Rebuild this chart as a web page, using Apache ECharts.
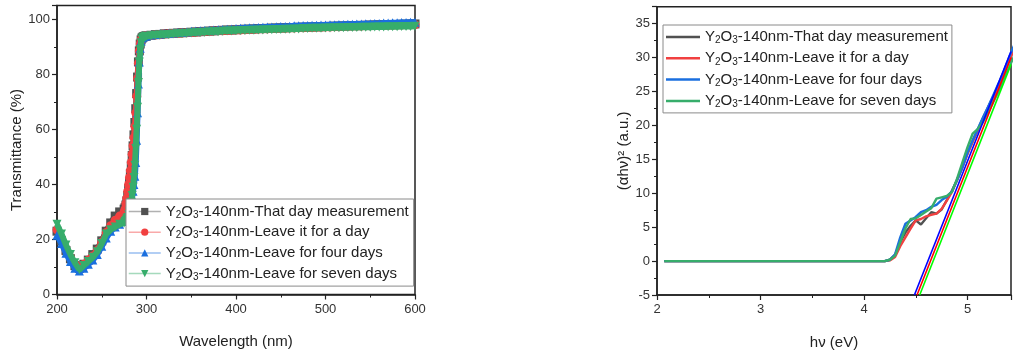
<!DOCTYPE html>
<html>
<head>
<meta charset="utf-8">
<script src="https://cdn.jsdelivr.net/npm/echarts@6/dist/echarts.min.js"></script>
<style>
html,body{margin:0;padding:0;background:#fff;}
#c{width:1014px;height:355px;}
</style>
</head>
<body>
<div id="c"></div>
<script>
// ---------- Left panel: transmittance ----------
const wl = [200,205,210,215,220,225,230,235,240,245,250,255,260,265,270,275,
  276,277,278,279,280,281,282,283,284,285,286,287,288,289,290,291,292,293,294,295,296,297,298,299,
  300,305,310,315,320,325,330,335,340,345,350,355,360,365,370,375,380,385,390,395,
  400,405,410,415,420,425,430,435,440,445,450,455,460,465,470,475,480,485,490,495,
  500,505,510,515,520,525,530,535,540,545,550,555,560,565,570,575,580,585,590,595,600];

const tGray = [23,19.5,16,13,10.5,9.5,11,12.5,14.5,16.5,19.5,23,26,28.5,30,31,
  31.5,32.5,34,36,38.5,41,44,47,50.5,54,58,62.5,67.5,73,79,84.5,88.5,91,92.5,93.2,93.5,93.7,93.8,93.9,
  93.9,94.2,94.4,94.5,94.7,94.8,94.9,95.0,95.1,95.2,
  95.3,95.4,95.5,95.6,95.7,95.8,95.9,96.0,96.1,96.1,
  96.2,96.3,96.4,96.4,96.5,96.6,96.6,96.7,96.8,96.8,
  96.9,96.9,97.0,97.0,97.1,97.1,97.2,97.2,97.3,97.3,
  97.4,97.4,97.5,97.5,97.6,97.6,97.7,97.7,97.8,97.8,
  97.9,97.9,98.0,98.0,98.0,98.1,98.1,98.2,98.2,98.3,98.3];

const tRed = [23.5,20,16.5,13.5,11,9.5,11,12.5,14,16,19,22.5,25,27,28.5,30,
  31,33,35,37.5,40,42.5,45,48,51,54,57,61,66,72,78.5,84,88.5,91,92.5,93.2,93.5,93.7,93.8,93.9,
  93.9,94.1,94.3,94.4,94.6,94.7,94.8,94.9,95.0,95.1,
  95.2,95.3,95.4,95.5,95.6,95.7,95.8,95.8,95.9,96.0,
  96.1,96.1,96.2,96.3,96.3,96.4,96.5,96.5,96.6,96.6,
  96.7,96.7,96.8,96.8,96.9,96.9,97.0,97.0,97.1,97.1,
  97.2,97.2,97.3,97.3,97.4,97.4,97.5,97.5,97.5,97.6,
  97.6,97.7,97.7,97.8,97.8,97.8,97.9,97.9,98.0,98.0,98.0];

const tBlue = [21.5,18.5,15,12,9.5,8.5,9.5,11,12.5,14.5,17.5,20.5,23,24.5,25.5,26.5,
  27,27.5,28,28.5,29.5,30.5,32,33.5,35.5,37.5,40,43,48,56,66,76.5,84.5,89.5,92,93.2,93.6,93.8,93.9,94.0,
  94.0,94.3,94.5,94.6,94.8,94.9,95.0,95.2,95.3,95.4,
  95.6,95.7,95.8,95.9,96.0,96.1,96.2,96.3,96.4,96.5,
  96.6,96.7,96.8,96.9,96.9,97.0,97.1,97.2,97.2,97.3,
  97.4,97.4,97.5,97.6,97.6,97.7,97.7,97.8,97.8,97.9,
  97.9,98.0,98.0,98.1,98.1,98.2,98.2,98.3,98.3,98.4,
  98.4,98.5,98.5,98.6,98.6,98.7,98.7,98.8,98.8,98.9,98.9];

const tGreen = [25.5,22,18,14.5,11.5,9,10.5,12,13.5,15.5,18.5,22,23.5,24.5,25.5,26,
  26.5,27,27.5,28,29,30,31.5,33.5,36,39,42.5,47,53,60,68,77,84.5,89,91.5,92.8,93.3,93.5,93.6,93.7,
  93.8,94.0,94.2,94.3,94.4,94.5,94.6,94.7,94.8,94.9,
  95.0,95.1,95.2,95.3,95.4,95.5,95.5,95.6,95.7,95.7,
  95.8,95.9,95.9,96.0,96.0,96.1,96.1,96.2,96.2,96.3,
  96.3,96.4,96.4,96.5,96.5,96.6,96.6,96.7,96.7,96.7,
  96.8,96.8,96.9,96.9,96.9,97.0,97.0,97.0,97.1,97.1,
  97.1,97.2,97.2,97.2,97.3,97.3,97.3,97.4,97.4,97.4,97.5];

// ---------- Right panel: Tauc plot ----------
const ev = [2.07,2.5,3.0,3.5,4.0,4.2,4.25,4.3,4.35,4.4,4.45,4.5,4.55,4.6,4.65,4.7,4.75,4.8,4.85,4.9,4.95,5.0,5.05,5.1,5.15,5.2,5.25,5.3,5.35,5.4,5.45,5.5];
const aGray  = [0,0,0,0,0,0,0.2,0.9,2.8,4.2,5.2,6.0,5.4,6.3,7.2,7.0,7.6,9.0,10.4,12.0,13.9,15.9,17.7,19.4,21.1,22.7,24.3,26.0,27.8,29.6,31.4,33.2];
const aRed   = [0,0,0,0,0,0,0.1,0.6,2.2,3.5,4.8,6.0,6.2,6.6,6.8,7.0,7.7,8.9,10.2,12.0,13.8,15.8,17.6,19.3,21.0,22.6,24.2,25.9,27.6,29.4,31.2,33.0];
const aBlue  = [0,0,0,0,0,0,0.2,1.0,3.5,5.5,6.0,6.5,7.2,7.5,8.0,8.3,9.0,9.5,10.3,12.0,13.8,16.0,17.8,19.5,21.2,22.8,24.5,26.2,28.0,30.0,31.8,33.6];
const aGreen = [0,0,0,0,0,0,0.2,0.8,2.8,4.8,6.2,6.3,6.8,7.3,7.8,9.2,9.4,9.6,10.2,12.2,14.5,16.8,18.8,19.5,20.5,22.0,23.5,25.0,26.8,28.5,30.2,32.0];

// linear fits: [x at y=-5, y=-5], [x end, y end]
const fitBlue  = [[4.487,-5],[5.42,30.9]];
const fitRed   = [[4.512,-5],[5.42,30.0]];
const fitGreen = [[4.538,-5],[5.42,29.0]];

const names = ['Y2O3-140nm-That day measurement','Y2O3-140nm-Leave it for a day','Y2O3-140nm-Leave for four days','Y2O3-140nm-Leave for seven days'];
const colors = ['#515151','#F14040','#1A6FDF','#37AD6B'];
const fitColors = ['#0000ff','#ff0000','#00ff00'];
const xTicksL = [200,300,400,500,600];
const yTicksL = [0,20,40,60,80,100];
const xTicksR = [2,3,4,5];
const yTicksR = [-5,0,5,10,15,20,25,30,35];

const FONT = '"Liberation Sans", Arial, sans-serif';
const pairs = (xs, ys) => xs.map((x, i) => [x, ys[i]]);
const richName = n => '{n|Y}{s|2}{n|O}{s|3}{n|' + n.slice(4) + '}';
const rich = {
  n: {fontSize: 15, lineHeight: 18, color: '#222', fontFamily: FONT},
  s: {fontSize: 10, lineHeight: 11, padding: [7,0,0,0], color: '#222', fontFamily: FONT}
};

function axisCommon(extra) {
  return Object.assign({
    type: 'value',
    axisLine: {show: true, onZero: false, lineStyle: {color: '#222', width: 1.5}},
    axisTick: {show: true, inside: false, length: 5, lineStyle: {color: '#222', width: 1.2}},
    minorTick: {show: true, splitNumber: 2, length: 3, lineStyle: {color: '#222', width: 1}},
    splitLine: {show: false},
    nameLocation: 'middle',
    nameTextStyle: {color: '#222', fontSize: 15, fontFamily: FONT}
  }, extra);
}
function onlyTicks(list) {
  return v => (list.indexOf(Math.round(v * 1000) / 1000) >= 0 ? String(v) : '');
}
function lbl(list, margin) {
  return {color: '#333', fontSize: 13, fontFamily: FONT, margin: margin, formatter: onlyTicks(list)};
}

const symbols = ['rect', 'circle', 'triangle', 'path://M0,0 L10,0 L5,9 Z'];

const chart = echarts.init(document.getElementById('c'), null, {renderer: 'canvas'});

const leftSeries = [tGray, tRed, tBlue, tGreen].map((arr, i) => ({
  name: names[i], type: 'line', xAxisIndex: 0, yAxisIndex: 0,
  data: pairs(wl, arr),
  symbol: symbols[i], symbolSize: 9, showSymbol: true,
  itemStyle: {color: colors[i]},
  lineStyle: {color: colors[i], width: 6, opacity: 1},
  z: 2 + i
}));
const rightSeries = [aGray, aRed, aBlue, aGreen].map((arr, i) => ({
  name: names[i] + ' ', type: 'line', xAxisIndex: 1, yAxisIndex: 1,
  data: pairs(ev, arr),
  symbol: 'none', smooth: false,
  itemStyle: {color: colors[i]},
  lineStyle: {color: colors[i], width: 2.4},
  z: 2 + i
}));
const fitSeries = [fitBlue, fitRed, fitGreen].map((d, i) => ({
  type: 'line', xAxisIndex: 1, yAxisIndex: 1, data: d,
  symbol: 'none', silent: true,
  lineStyle: {color: fitColors[i], width: 1.6}, z: 10
}));

chart.setOption({
  animation: false,
  backgroundColor: '#fff',
  grid: [
    {left: 57, top: 5.5, width: 358, height: 289, show: true, borderColor: '#222', borderWidth: 1.5, backgroundColor: 'transparent'},
    {left: 657, top: 6.7, width: 358, height: 296, show: true, borderColor: '#222', borderWidth: 1.5, backgroundColor: 'transparent'}
  ],
  xAxis: [
    axisCommon({gridIndex: 0, min: 200, max: 600, interval: 100, name: 'Wavelength (nm)', nameGap: 40, axisLabel: lbl(xTicksL, 8)}),
    axisCommon({gridIndex: 1, min: 2, max: 5.42, interval: 1, name: 'h\u03bd (eV)', nameGap: 40, axisLabel: lbl(xTicksR, 8)})
  ],
  yAxis: [
    axisCommon({gridIndex: 0, min: 0, max: 105, interval: 20, name: 'Transmittance (%)', nameGap: 32, axisLabel: lbl(yTicksL, 7)}),
    axisCommon({gridIndex: 1, min: -5, max: 37.5, interval: 5, name: '(\u03b1h\u03bd)\u00b2 (a.u.)', nameGap: 26, axisLabel: lbl(yTicksR, 7)})
  ],
  legend: [
    {data: names.map(n => ({name: n, lineStyle: {width: 1.5, opacity: 0.45}})),
      orient: 'vertical', left: 126, top: 199, padding: [4,5,4,2],
      itemWidth: 32, itemHeight: 9, itemGap: 3.7, backgroundColor: '#fff', borderColor: '#8a8a8a', borderWidth: 1,
      borderRadius: 0, formatter: n => richName(n), textStyle: {rich: rich}, selectedMode: false, z: 20},
    {data: names.map(n => ({name: n + ' ', icon: 'rect'})), orient: 'vertical', left: 663, top: 25, padding: [3.5,4,3.5,3], itemGap: 4.3,
      itemWidth: 34, itemHeight: 2.5, backgroundColor: '#fff', borderColor: '#8a8a8a', borderWidth: 1,
      borderRadius: 0, formatter: n => richName(n.trim()), textStyle: {rich: rich}, selectedMode: false, z: 20}
  ],
  series: leftSeries.concat(rightSeries, fitSeries)
});
</script>
</body>
</html>
